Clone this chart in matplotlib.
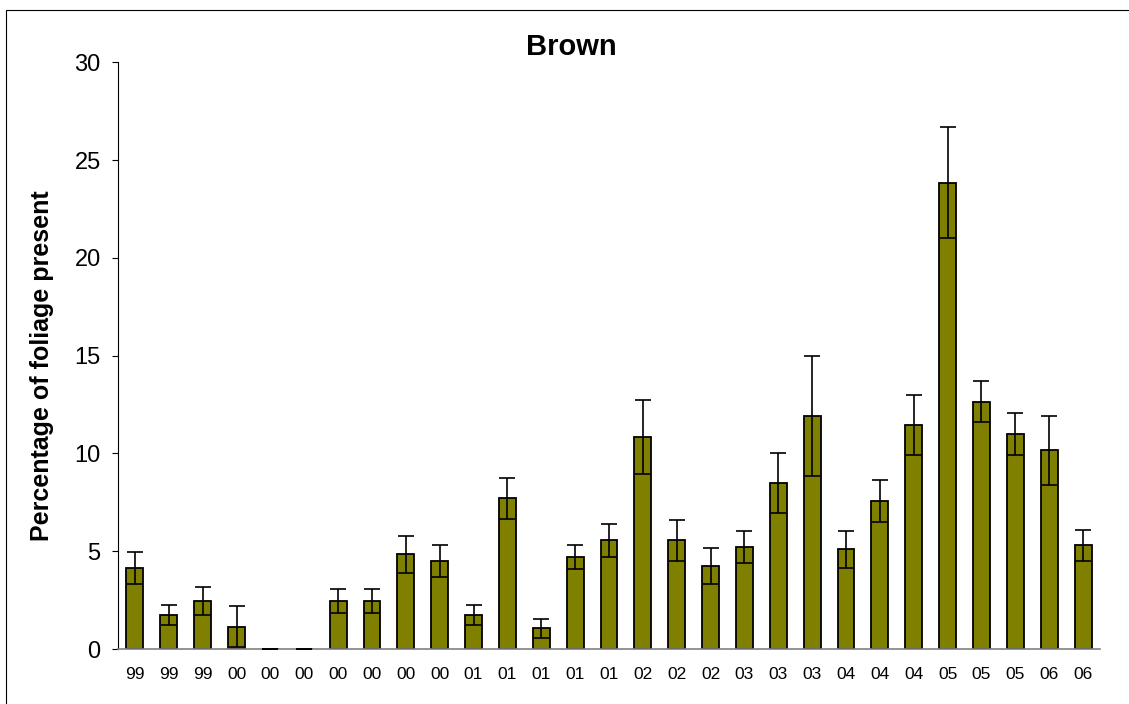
import matplotlib
matplotlib.use("Agg")
import matplotlib.pyplot as plt
from matplotlib.patches import Rectangle

plt.rcParams['font.family'] = ['Liberation Sans', 'DejaVu Sans']

years = ['99', '99', '99', '00', '00', '00', '00', '00', '00', '00',
         '01', '01', '01', '01', '01', '02', '02', '02', '03', '03',
         '03', '04', '04', '04', '05', '05', '05', '06', '06']
brown = [4.15, 1.75, 2.45, 1.15, 0, 0, 2.45, 2.45, 4.85, 4.5,
         1.75, 7.7, 1.05, 4.7, 5.55, 10.85, 5.55, 4.25, 5.2, 8.5,
         11.9, 5.1, 7.55, 11.45, 23.85, 12.65, 11.0, 10.15, 5.3]
errors = [0.82, 0.5, 0.72, 1.07, 0, 0, 0.6, 0.6, 0.94, 0.82,
          0.5, 1.06, 0.48, 0.62, 0.83, 1.88, 1.05, 0.94, 0.82, 1.54,
          3.07, 0.94, 1.07, 1.55, 2.85, 1.06, 1.07, 1.75, 0.8]

fig = plt.figure(figsize=(11.29, 7.04), dpi=100)
ax = fig.add_axes([118/1129, 1 - 649/704, 982/1129, (649 - 62.3)/704])

x = range(len(brown))
ax.bar(x, brown, width=0.5, color='#808000', edgecolor='black', linewidth=1.3, zorder=2)
ax.errorbar(x, brown, yerr=errors, fmt='none', ecolor='black', elinewidth=1.2,
            capsize=6, capthick=1.2, zorder=3)

ax.set_xlim(-0.5, len(brown) - 0.5)
ax.set_ylim(0, 30)
ax.set_yticks([0, 5, 10, 15, 20, 25, 30])
ax.set_xticks(list(x))
ax.set_xticklabels(years, fontsize=12.5)
ax.tick_params(axis='x', length=0, pad=13)
ax.tick_params(axis='y', labelsize=17, length=4.5, width=0.8, pad=8, direction='out')

ax.spines['top'].set_visible(False)
ax.spines['right'].set_visible(False)
ax.spines['left'].set_linewidth(0.8)
ax.spines['bottom'].set_color('#808080')
ax.spines['bottom'].set_linewidth(1.2)

ax.set_ylabel('Percentage of foliage present', fontsize=18, fontweight='bold')
ax.yaxis.set_label_coords(-0.065, 0.483)
fig.text(571/1129, 1 - 47/704, 'Brown', fontsize=21, fontweight='bold', ha='center', va='center')

# outer frame of the chart area
fig.patches.append(Rectangle((6/1129, -0.1), 1.2, 0.1 + (704 - 10)/704, transform=fig.transFigure,
                             fill=False, edgecolor='black', linewidth=0.8))

plt.savefig('out.png', dpi=100)
